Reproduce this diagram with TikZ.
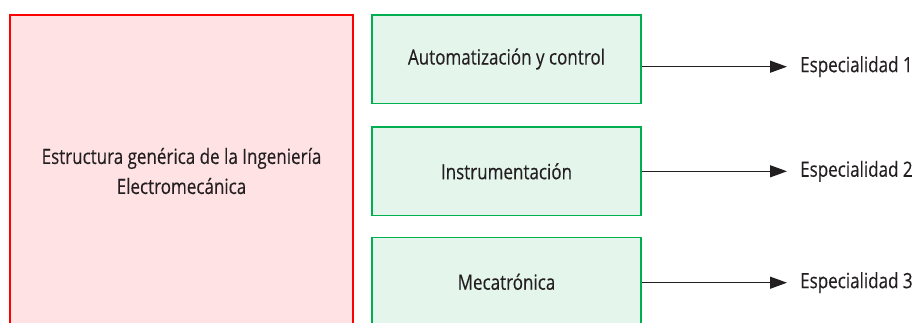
\documentclass[tikz,border=0pt]{standalone}
\usepackage{fontspec}
\setmainfont[FakeStretch=0.81,FakeBold=0.3]{Open Sans}
\usetikzlibrary{arrows.meta}
\definecolor{redline}{RGB}{255,0,0}
\definecolor{redfill}{RGB}{255,226,228}
\definecolor{greenline}{RGB}{0,176,80}
\definecolor{greenfill}{RGB}{228,245,236}
\definecolor{txt}{RGB}{35,31,32}
\tikzset{
  bigbox/.style={draw=redline, fill=redfill, line width=2pt, minimum width=343pt, minimum height=313pt, inner sep=0pt, align=center, text=txt, font=\fontsize{21}{30}\selectfont},
  greenbox/.style={draw=greenline, fill=greenfill, line width=1.5pt, minimum width=269pt, minimum height=88.5pt, inner sep=0pt, text=txt, font=\fontsize{21}{25}\selectfont},
  speclabel/.style={anchor=west, inner sep=0pt, text=txt, font=\fontsize{21}{25}\selectfont},
  arr/.style={draw=txt, line width=1.3pt, -{Triangle[length=17pt,width=12pt]}, shorten >=13pt}
}
\begin{document}
\begin{tikzpicture}[x=1pt,y=-1pt]
\clip (0,0) rectangle (917,322);
\useasboundingbox (0,0) rectangle (917,322);
\fill[white] (0,0) rectangle (917,322);
\node[bigbox] (main) at (181.5,171) {Estructura genérica de la Ingeniería\\Electromecánica};
\node[greenbox] (g1) at (506.5,59) {Automatización y control};
\node[greenbox] (g2) at (506.5,171.3) {Instrumentación};
\node[greenbox] (g3) at (506.5,281.8) {Mecatrónica};
\node[speclabel] (s1) at (800,66.7) {Especialidad 1};
\node[speclabel] (s2) at (800,171.3) {Especialidad 2};
\node[speclabel] (s3) at (800,282.7) {Especialidad 3};
\draw[arr] (g1.east |- s1.west) -- (s1.west);
\draw[arr] (g2.east |- s2.west) -- (s2.west);
\draw[arr] (g3.east |- s3.west) -- (s3.west);
\end{tikzpicture}
\end{document}
